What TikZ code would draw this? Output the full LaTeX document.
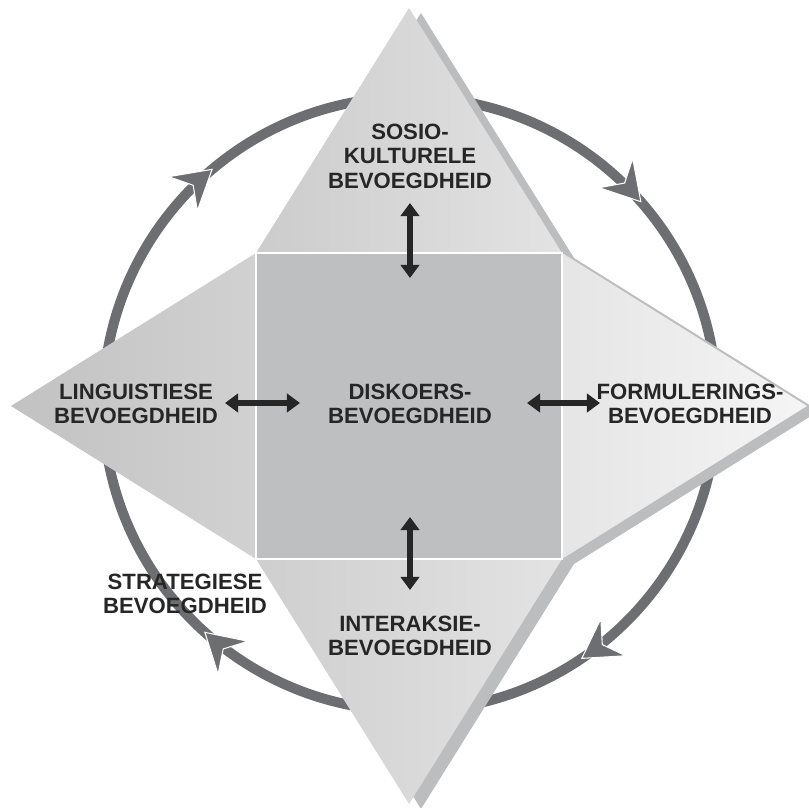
\documentclass[tikz,border=0pt]{standalone}
\usepackage{fontspec}
\setmainfont{Liberation Sans}
\usetikzlibrary{arrows.meta,decorations.markings}

\definecolor{ringgray}{HTML}{6D6E71}
\definecolor{shadowgray}{HTML}{BCBDBF}
\definecolor{squaregray}{HTML}{BEBFC1}
\definecolor{textdark}{HTML}{262626}

\begin{document}
\begin{tikzpicture}[x=0.02cm,y=0.02cm]
  \tikzstyle{comp}  = [font=\bfseries\fontsize{12.6}{14}\selectfont,text=textdark,align=center,inner sep=0pt]
  \tikzstyle{link}  = [line width=3.4pt,draw=textdark,{Triangle[length=7.5pt,width=10.5pt]}-{Triangle[length=7.5pt,width=10.5pt]}]
  \tikzstyle{ring}  = [line width=5.7pt,draw=ringgray]
  \tikzset{ringtip/.tip={Stealth[length=23pt,width=27pt,inset=8pt,line width=0.6pt,color=white,fill=ringgray]}}
  \useasboundingbox (0,0) rectangle (809,808);

  % cycle round the competences
  \coordinate (ctr) at (410,404);
  \draw[ring,postaction={decorate},
        decoration={markings,
          mark=at position 0.139 with {\arrow{ringtip}},
          mark=at position 0.386 with {\arrow{ringtip}},
          mark=at position 0.656 with {\arrow{ringtip}},
          mark=at position 0.867 with {\arrow{ringtip}}}]
    (ctr) ++(180:6.14cm) arc[start angle=180,end angle=-180,radius=6.14cm];

  % star shadow
  \fill[shadowgray,shift={(12,-5)}] (409,800) -- (562,555) -- (807,402) -- (562,249)
    -- (409,4) -- (256,249) -- (11,402) -- (256,555) -- cycle;

  % the four points of the star
  \path[left color=black!20,right color=black!11] (256,555) -- (409,800) -- (562,555) -- cycle;
  \path[left color=black!24,right color=black!18] (256,555) -- (11,402) -- (256,249) -- cycle;
  \path[left color=black!10,right color=black!4]  (562,555) -- (807,402) -- (562,249) -- cycle;
  \path[left color=black!19,right color=black!11] (256,249) -- (409,4) -- (562,249) -- cycle;

  % centre square
  \filldraw[fill=squaregray,draw=white,line width=1.2pt] (256,249) rectangle (562,555);

  % competences
  \node[comp] (sosio)    at (410,652) {SOSIO-\\KULTURELE\\BEVOEGDHEID};
  \node[comp] (lingu)    at (136,404) {LINGUISTIESE\\BEVOEGDHEID};
  \node[comp] (diskoers) at (410,404) {DISKOERS-\\BEVOEGDHEID};
  \node[comp] (formul)   at (690,404) {FORMULERINGS-\\BEVOEGDHEID};
  \node[comp] (interak)  at (410,172) {INTERAKSIE-\\BEVOEGDHEID};
  \node[comp] (strateg)  at (185,214) {STRATEGIESE\\BEVOEGDHEID};

  % links between the square and the points
  \coordinate (top-a) at (410,605);  \coordinate (top-b) at (410,530);
  \coordinate (lft-a) at (225,405);  \coordinate (lft-b) at (300,405);
  \coordinate (rgt-a) at (527,405);  \coordinate (rgt-b) at (600,405);
  \coordinate (bot-a) at (410,291);  \coordinate (bot-b) at (410,218);
  \draw[link] (top-a) -- (top-b);
  \draw[link] (lft-a) -- (lft-b);
  \draw[link] (rgt-a) -- (rgt-b);
  \draw[link] (bot-a) -- (bot-b);
\end{tikzpicture}
\end{document}
